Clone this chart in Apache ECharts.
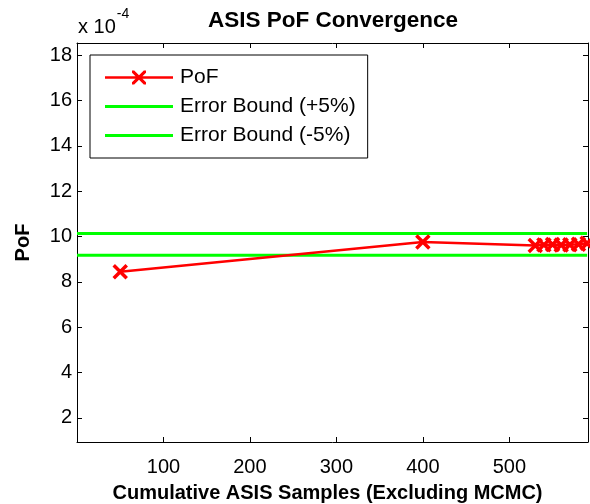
<!DOCTYPE html>
<html>
<head>
<meta charset="utf-8">
<script src="https://cdn.jsdelivr.net/npm/echarts@6/dist/echarts.min.js"></script>
<style>html,body{margin:0;padding:0;background:#fff;}#c{width:590px;height:504px;}</style>
</head>
<body>
<div id="c"></div>
<script>
// Data (PoF values in units of 1e-4)
var samples = [50, 400, 530, 540, 550, 560, 570, 580, 590];
var pof = [8.45, 9.76, 9.6, 9.63, 9.65, 9.62, 9.64, 9.66, 9.7];
var boundX = [0, 590];
var boundPlus = [10.13, 10.13];
var boundMinus = [9.17, 9.17];
var xTicks = [100, 200, 300, 400, 500];
var yTicks = [2, 4, 6, 8, 10, 12, 14, 16, 18];

var FONT = 'Liberation Sans, Arial, Helvetica, sans-serif';
var chart = echarts.init(document.getElementById('c'), null, {renderer: 'canvas'});

function pairs(xs, ys) { return xs.map(function (x, i) { return [x, ys[i]]; }); }

var xMin = 0, xMax = 591, yMin = 0.94, yMax = 18.53;
var lineIcon = 'path://M0,0L68,0L68,3L0,3Z';
var lineXIcon = 'path://M0,5.8L68,5.8L68,8.2L0,8.2Z' +
  'M27,0L29.2,0L34,4.8L38.8,0L41,0L41,2.2L36.2,7L41,11.8L41,14L38.8,14L34,9.2L29.2,14L27,14L27,11.8L31.8,7L27,2.2Z';

var option = {
  animation: false,
  backgroundColor: '#fff',
  title: {
    text: 'ASIS PoF Convergence',
    left: 328, top: 4, textAlign: 'center',
    textStyle: {fontFamily: FONT, fontWeight: 'bold', fontSize: 22.5, color: '#000'}
  },
  grid: {left: 77, right: 2, top: 43, bottom: 62, containLabel: false, outerBoundsMode: 'none'},
  legend: {
    orient: 'vertical', left: 90, top: 55,
    padding: [12, 12, 12, 15],
    itemWidth: 68, itemHeight: 14, itemGap: 8,
    backgroundColor: '#fff', borderColor: '#000', borderWidth: 1,
    textStyle: {fontFamily: FONT, fontSize: 21, color: '#000', padding: [0, 0, 0, 2]},
    data: [
      {name: 'PoF', icon: lineXIcon, itemStyle: {borderWidth: 0}},
      {name: 'Error Bound (+5%)', icon: lineIcon},
      {name: 'Error Bound (-5%)', icon: lineIcon}
    ]
  },
  xAxis: [{
    type: 'value', min: xMin, max: xMax, position: 'bottom',
    name: 'Cumulative ASIS Samples (Excluding MCMC)', nameLocation: 'middle', nameGap: 41,
    nameTextStyle: {fontFamily: FONT, fontWeight: 'bold', fontSize: 20, color: '#000', padding: [0, 10, 0, 0]},
    axisLine: {show: true, onZero: false, lineStyle: {color: '#000', width: 1}},
    axisTick: {show: true, inside: true, length: 5, customValues: xTicks, lineStyle: {color: '#000'}},
    axisLabel: {show: true, customValues: xTicks, margin: 15, fontFamily: FONT, fontSize: 20, color: '#000'},
    splitLine: {show: false}
  }, {
    type: 'value', min: xMin, max: xMax, position: 'top',
    axisLine: {show: true, onZero: false, lineStyle: {color: '#000', width: 1}},
    axisTick: {show: true, inside: true, length: 5, customValues: xTicks, lineStyle: {color: '#000'}},
    axisLabel: {show: false}, splitLine: {show: false}
  }],
  yAxis: [{
    type: 'value', min: yMin, max: yMax, position: 'left',
    name: 'PoF', nameLocation: 'middle', nameGap: 44, nameRotate: 90,
    nameTextStyle: {fontFamily: FONT, fontWeight: 'bold', fontSize: 20, color: '#000'},
    axisLine: {show: true, onZero: false, lineStyle: {color: '#000', width: 1}},
    axisTick: {show: true, inside: true, length: 5, customValues: yTicks, lineStyle: {color: '#000'}},
    axisLabel: {show: true, customValues: yTicks, margin: 5, fontFamily: FONT, fontSize: 20, color: '#000'},
    splitLine: {show: false}
  }, {
    type: 'value', min: yMin, max: yMax, position: 'right',
    axisLine: {show: true, onZero: false, lineStyle: {color: '#000', width: 1}},
    axisTick: {show: true, inside: true, length: 5, customValues: yTicks, lineStyle: {color: '#000'}},
    axisLabel: {show: false}, splitLine: {show: false}
  }],
  graphic: [{
    type: 'text', left: 78, top: 7,
    style: {
      text: '{a|x 10}{b|-4}',
      rich: {
        a: {fontFamily: FONT, fontSize: 20, color: '#000', verticalAlign: 'bottom', padding: [10, 0, 0, 0]},
        b: {fontFamily: FONT, fontSize: 14, color: '#000', verticalAlign: 'top', padding: [0, 0, 12, 1]}
      }
    }
  }],
  series: [{
    name: 'Error Bound (+5%)', type: 'line', data: pairs(boundX, boundPlus),
    showSymbol: false, symbol: 'none', lineStyle: {color: '#00ff00', width: 3}, itemStyle: {color: '#00ff00'}, z: 2
  }, {
    name: 'Error Bound (-5%)', type: 'line', data: pairs(boundX, boundMinus),
    showSymbol: false, symbol: 'none', lineStyle: {color: '#00ff00', width: 3}, itemStyle: {color: '#00ff00'}, z: 2
  }, {
    name: 'PoF', type: 'line', data: pairs(samples, pof),
    symbol: 'path://M0,0L10,10M0,10L10,0', symbolSize: 13, showAllSymbol: true,
    lineStyle: {color: '#ff0000', width: 2.5},
    itemStyle: {color: '#ff0000', borderColor: '#ff0000', borderWidth: 3.5},
    z: 3
  }]
};
chart.setOption(option);
</script>
</body>
</html>
